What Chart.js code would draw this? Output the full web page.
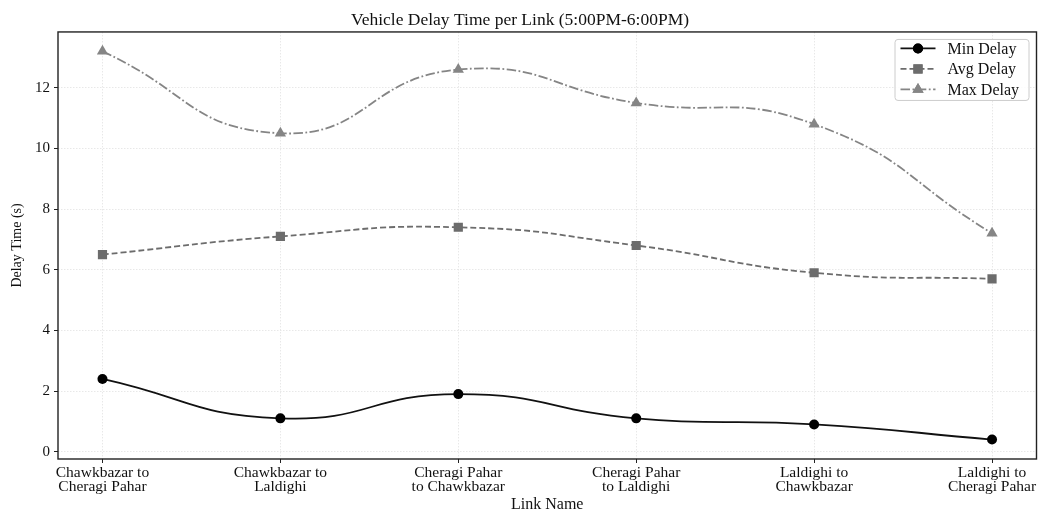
<!DOCTYPE html>
<html>
<head>
<meta charset="utf-8">
<script src="https://cdn.jsdelivr.net/npm/chart.js@4.4.1/dist/chart.umd.min.js"></script>
<style>
    html, body { margin: 0; padding: 0; background: #fff; }
    #wrap { width: 1043px; height: 512px; }
</style>
</head>
<body>
<div id="wrap"><canvas id="delayChart" width="1043" height="512"></canvas></div>
<script>
// Chart data
const linkNames = [
    ['Chawkbazar to', 'Cheragi Pahar'],
    ['Chawkbazar to', 'Laldighi'],
    ['Cheragi Pahar', 'to Chawkbazar'],
    ['Cheragi Pahar', 'to Laldighi'],
    ['Laldighi to', 'Chawkbazar'],
    ['Laldighi to', 'Cheragi Pahar']
];
const minDelay = [2.4, 1.1, 1.9, 1.1, 0.9, 0.4];
const avgDelay = [6.5, 7.1, 7.4, 6.8, 5.9, 5.7];
const maxDelay = [13.2, 10.5, 12.6, 11.5, 10.8, 7.2];
const yTicks = [0, 2, 4, 6, 8, 10, 12];

const FONT = "'Liberation Serif', 'Times New Roman', serif";

function toPoints(values) {
    return values.map((v, i) => ({ x: i, y: v }));
}

// Legend drawn inside the plot, like the reference (line + marker samples)
const boxLegend = {
    id: 'boxLegend',
    afterDraw(chart) {
        const { ctx, chartArea } = chart;
        const right = chartArea.right - 8;
        const top = chartArea.top + 7;
        const w = 134, h = 61;
        const left = right - w;

        ctx.save();
        ctx.fillStyle = 'rgba(255,255,255,0.85)';
        ctx.strokeStyle = '#cccccc';
        ctx.lineWidth = 1;
        ctx.beginPath();
        ctx.roundRect(left + 0.5, top + 0.5, w, h, 3);
        ctx.fill();
        ctx.stroke();

        chart.data.datasets.forEach((ds, i) => {
            const y = top + 9.5 + i * 20.5;
            const x0 = left + 6, x1 = left + 41;
            ctx.strokeStyle = ds.borderColor;
            ctx.lineWidth = ds.borderWidth;
            ctx.setLineDash(ds.borderDash || []);
            ctx.beginPath();
            ctx.moveTo(x0, y);
            ctx.lineTo(x1, y);
            ctx.stroke();
            ctx.setLineDash([]);
            ctx.fillStyle = ds.pointBackgroundColor;
            Chart.helpers.drawPoint(ctx, {
                pointStyle: ds.pointStyle,
                radius: ds.pointRadius,
                rotation: 0,
                borderWidth: 0
            }, (x0 + x1) / 2, y);
            ctx.fill();

            ctx.fillStyle = '#111';
            ctx.font = '16px ' + FONT;
            ctx.textBaseline = 'middle';
            ctx.textAlign = 'left';
            ctx.fillText(ds.label, left + 53, y + 1);
        });
        ctx.restore();
    }
};

// Full frame around the plot area
const frame = {
    id: 'frame',
    afterDatasetsDraw(chart) {
        const { ctx, chartArea } = chart;
        ctx.save();
        ctx.strokeStyle = '#222';
        ctx.lineWidth = 1.4;
        ctx.strokeRect(chartArea.left, chartArea.top, chartArea.right - chartArea.left, chartArea.bottom - chartArea.top);
        ctx.restore();
    }
};

const ctx = document.getElementById('delayChart').getContext('2d');
const delayChart = new Chart(ctx, {
    type: 'line',
    data: {
        datasets: [
            {
                label: 'Min Delay',
                data: toPoints(minDelay),
                borderColor: '#111111',
                backgroundColor: '#111111',
                pointBackgroundColor: '#000000',
                pointBorderWidth: 0,
                borderWidth: 1.8,
                pointStyle: 'circle',
                pointRadius: 5,
                tension: 0.5
            },
            {
                label: 'Avg Delay',
                data: toPoints(avgDelay),
                borderColor: '#6c6c6c',
                backgroundColor: '#6c6c6c',
                pointBackgroundColor: '#6c6c6c',
                pointBorderWidth: 0,
                borderWidth: 1.8,
                borderDash: [6, 3],
                pointStyle: 'rect',
                pointRadius: 6.5,
                tension: 0.5
            },
            {
                label: 'Max Delay',
                data: toPoints(maxDelay),
                borderColor: '#858585',
                backgroundColor: '#858585',
                pointBackgroundColor: '#858585',
                pointBorderWidth: 0,
                borderWidth: 1.8,
                borderDash: [9.5, 2.5, 1.8, 2.5],
                pointStyle: 'triangle',
                pointRadius: 6.5,
                tension: 0.5
            }
        ]
    },
    options: {
        responsive: false,
        animation: false,
        layout: { padding: { left: 0, right: 3, top: 0, bottom: 0 } },
        plugins: {
            legend: { display: false },
            tooltip: { enabled: false },
            title: {
                display: true,
                text: 'Vehicle Delay Time per Link (5:00PM-6:00PM)',
                color: '#111',
                font: { family: FONT, size: 17.5, weight: 'normal', lineHeight: 1.1 },
                padding: { top: 10.5, bottom: 2.2 }
            }
        },
        scales: {
            x: {
                type: 'linear',
                min: -0.25,
                max: linkNames.length - 0.75,
                afterBuildTicks: scale => {
                    scale.ticks = linkNames.map((_, i) => ({ value: i }));
                },
                afterFit: scale => { scale.height = 53; },
                ticks: {
                    callback: value => linkNames[value],
                    color: '#111',
                    font: { family: FONT, size: 15.5, lineHeight: 0.9 },
                    padding: 3,
                    maxRotation: 0,
                    autoSkip: false
                },
                grid: {
                    color: '#e2e2e2',
                    lineWidth: 0.8,
                    tickColor: '#222',
                    tickLength: 4,
                    tickWidth: 1
                },
                border: { display: false, dash: [1.5, 1.5] },
                title: {
                    display: true,
                    text: 'Link Name',
                    color: '#111',
                    font: { family: FONT, size: 16, lineHeight: 0.9 },
                    padding: { top: 0, bottom: 0 }
                }
            },
            y: {
                min: -0.24,
                max: 13.84,
                afterBuildTicks: scale => {
                    scale.ticks = yTicks.map(v => ({ value: v }));
                },
                afterFit: scale => { scale.width = 58; },
                ticks: {
                    color: '#111',
                    font: { family: FONT, size: 15 },
                    padding: 4
                },
                grid: {
                    color: '#e2e2e2',
                    lineWidth: 0.8,
                    tickColor: '#222',
                    tickLength: 4,
                    tickWidth: 1
                },
                border: { display: false, dash: [1.5, 1.5] },
                title: {
                    display: true,
                    text: 'Delay Time (s)',
                    color: '#111',
                    font: { family: FONT, size: 14, lineHeight: 1.2 },
                    padding: { top: 9, bottom: 0 }
                }
            }
        }
    },
    plugins: [frame, boxLegend]
});
</script>
</body>
</html>
